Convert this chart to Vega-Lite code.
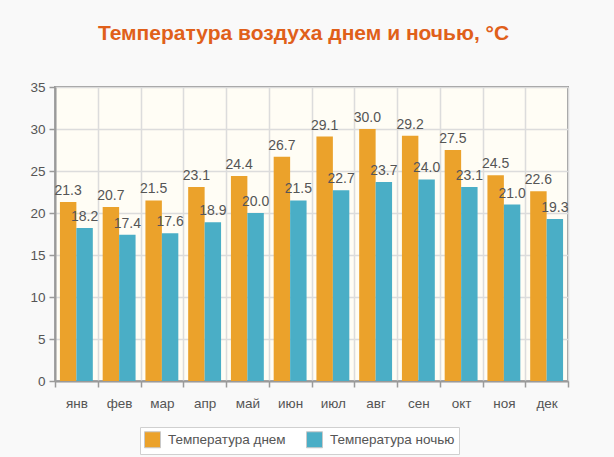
{
  "$schema": "https://vega.github.io/schema/vega-lite/v6.json",
  "autosize": "none",
  "width": 513,
  "height": 294,
  "padding": {"left": 55, "top": 87, "right": 46, "bottom": 76},
  "background": "#f9f9f9",
  "title": {
    "text": "Температура воздуха днем и ночью, °C",
    "font": "Liberation Sans",
    "fontSize": 21,
    "fontWeight": "bold",
    "color": "#e0601a",
    "anchor": "middle",
    "dx": -8,
    "offset": 36
  },
  "config": {
    "view": {"fill": "#fffdf5", "stroke": "#9a9a9a", "strokeWidth": 2},
    "font": "Liberation Sans"
  },
  "data": {
    "values": [
      {"month": "янв", "series": "Температура днем", "t": 21.3},
      {"month": "янв", "series": "Температура ночью", "t": 18.2},
      {"month": "фев", "series": "Температура днем", "t": 20.7},
      {"month": "фев", "series": "Температура ночью", "t": 17.4},
      {"month": "мар", "series": "Температура днем", "t": 21.5},
      {"month": "мар", "series": "Температура ночью", "t": 17.6},
      {"month": "апр", "series": "Температура днем", "t": 23.1},
      {"month": "апр", "series": "Температура ночью", "t": 18.9},
      {"month": "май", "series": "Температура днем", "t": 24.4},
      {"month": "май", "series": "Температура ночью", "t": 20.0},
      {"month": "июн", "series": "Температура днем", "t": 26.7},
      {"month": "июн", "series": "Температура ночью", "t": 21.5},
      {"month": "июл", "series": "Температура днем", "t": 29.1},
      {"month": "июл", "series": "Температура ночью", "t": 22.7},
      {"month": "авг", "series": "Температура днем", "t": 30.0},
      {"month": "авг", "series": "Температура ночью", "t": 23.7},
      {"month": "сен", "series": "Температура днем", "t": 29.2},
      {"month": "сен", "series": "Температура ночью", "t": 24.0},
      {"month": "окт", "series": "Температура днем", "t": 27.5},
      {"month": "окт", "series": "Температура ночью", "t": 23.1},
      {"month": "ноя", "series": "Температура днем", "t": 24.5},
      {"month": "ноя", "series": "Температура ночью", "t": 21.0},
      {"month": "дек", "series": "Температура днем", "t": 22.6},
      {"month": "дек", "series": "Температура ночью", "t": 19.3}
    ]
  },
  "encoding": {
    "x": {
      "field": "month",
      "type": "nominal",
      "sort": null,
      "scale": {"paddingInner": 0, "paddingOuter": 0},
      "axis": {
        "title": null,
        "labelAngle": 0,
        "labelFontSize": 13.5,
        "labelColor": "#555",
        "labelPadding": 9,
        "tickBand": "extent",
        "grid": true,
        "gridColor": "#dcdcdc",
        "gridWidth": 1.5,
        "domainColor": "#9a9a9a",
        "domainWidth": 2,
        "tickColor": "#9a9a9a",
        "tickWidth": 1.5,
        "tickSize": 6
      }
    },
    "xOffset": {
      "field": "series",
      "type": "nominal",
      "scale": {"paddingInner": 0, "paddingOuter": 0.3}
    },
    "y": {
      "field": "t",
      "type": "quantitative",
      "scale": {"domain": [0, 35], "nice": false},
      "axis": {
        "title": null,
        "values": [0, 5, 10, 15, 20, 25, 30, 35],
        "labelFontSize": 13.5,
        "labelColor": "#555",
        "labelPadding": 4,
        "gridColor": "#dcdcdc",
        "gridWidth": 1.5,
        "domainColor": "#9a9a9a",
        "domainWidth": 2,
        "tickColor": "#9a9a9a",
        "tickWidth": 1.5,
        "tickSize": 6
      }
    }
  },
  "layer": [
    {
      "mark": {"type": "bar"},
      "encoding": {
        "color": {
          "field": "series",
          "type": "nominal",
          "scale": {
            "domain": ["Температура днем", "Температура ночью"],
            "range": ["#eba22b", "#4aaec6"]
          },
          "legend": {
            "title": null,
            "orient": "none",
            "direction": "horizontal",
            "legendX": 85,
            "legendY": 340,
            "symbolType": "square",
            "symbolSize": 256,
            "symbolOpacity": 1,
            "symbolStrokeColor": "#c8c8c8",
            "symbolStrokeWidth": 1,
            "labelFontSize": 13.5,
            "labelColor": "#555",
            "labelLimit": 200,
            "labelOffset": 7,
            "columnPadding": 18,
            "fillColor": "#ffffff",
            "strokeColor": "#d0d0d0",
            "padding": 4
          }
        }
      }
    },
    {
      "mark": {"type": "text", "baseline": "bottom", "dy": -4, "fontSize": 14, "color": "#555"},
      "encoding": {
        "text": {"field": "t", "type": "quantitative", "format": ".1f"}
      }
    }
  ]
}
